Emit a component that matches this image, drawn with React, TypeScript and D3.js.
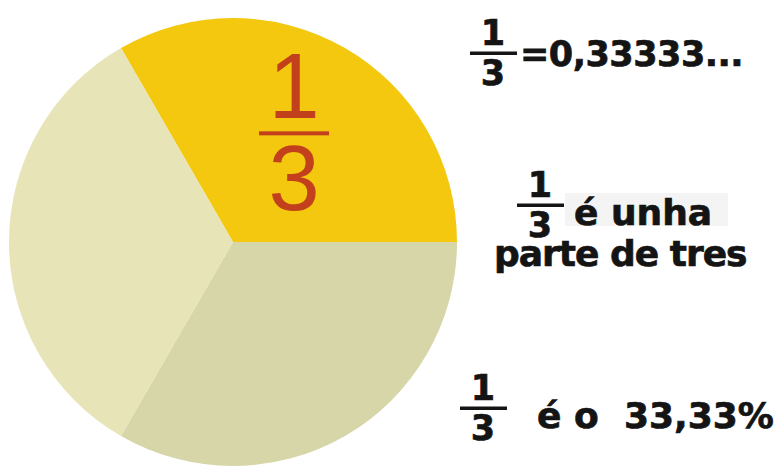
import React from "react";
import * as d3 from "d3";

const W = 782;
const H = 466;

const sliceNames = ["unha parte", "segunda parte", "terceira parte"];
const sliceValues = [1, 1, 1];
const sliceColors = ["#F3C80F", "#D6D6A8", "#E7E4B7"];

const fracNum = "1";
const fracDen = "3";
const line1 = "=0,33333...";
const line2a = "é unha";
const line2b = "parte de tres";
const line3a = "é o";
const line3b = "33,33%";

const cx = 233;
const cy = 242;
const R = 224;

const BOLD = "'DejaVu Sans', Verdana, sans-serif";
const INK = "#141414";

const boldText = {
  fontFamily: BOLD,
  fontWeight: "bold" as const,
  fill: INK,
  stroke: INK,
  strokeWidth: 0.7,
};

function SmallFrac({ x, barY }: { x: number; barY: number }) {
  return (
    <g>
      <text x={x + 23} y={barY - 8} textAnchor="middle" fontSize={35} {...boldText}>
        {fracNum}
      </text>
      <rect x={x} y={barY - 1.5} width={47} height={3.5} fill={INK} />
      <text x={x + 23} y={barY + 32} textAnchor="middle" fontSize={35} {...boldText}>
        {fracDen}
      </text>
    </g>
  );
}

export default function App() {
  const pie = d3
    .pie<number>()
    .sort(null)
    .startAngle(-Math.PI / 6)
    .endAngle(2 * Math.PI - Math.PI / 6);
  const arcs = pie(sliceValues);
  const arc = d3.arc<d3.PieArcDatum<number>>().innerRadius(0).outerRadius(R);
  const labelArc = d3.arc<d3.PieArcDatum<number>>().innerRadius(122).outerRadius(122);
  const [lx, ly] = labelArc.centroid(arcs[0]);

  return (
    <svg width={W} height={H} style={{ position: "absolute", left: 0, top: 0, background: "#fff" }}>
      <g transform={`translate(${cx},${cy})`}>
        {arcs.map((a, i) => (
          <path key={sliceNames[i]} d={arc(a) || ""} fill={sliceColors[i]} />
        ))}
      </g>
      {/* big fraction in the yellow slice */}
      <g transform={`translate(${lx + cx},${ly + cy})`}>
        <text x={0} y={-18} textAnchor="middle" fontFamily="'Liberation Sans', Arial, sans-serif" fontSize={92} fill="#C2411C">
          {fracNum}
        </text>
        <rect x={-35} y={-5} width={70} height={4} fill="#C2411C" />
        <text x={0} y={74} textAnchor="middle" fontFamily="'Liberation Sans', Arial, sans-serif" fontSize={92} fill="#C2411C">
          {fracDen}
        </text>
      </g>

      {/* line 1 */}
      <SmallFrac x={470} barY={53} />
      <text x={520} y={66} fontSize={35} letterSpacing={-0.5} {...boldText}>
        {line1}
      </text>

      {/* line 2 */}
      <rect x={565} y={193} width={163} height={33} fill="#F4F4F4" />
      <SmallFrac x={517} barY={205} />
      <text x={574} y={225} fontSize={36} {...boldText}>
        {line2a}
      </text>
      <text x={494} y={266} fontSize={36} letterSpacing={-1} {...boldText}>
        {line2b}
      </text>

      {/* line 3 */}
      <SmallFrac x={460} barY={408} />
      <text x={537} y={428} fontSize={36} {...boldText}>
        {line3a}
      </text>
      <text x={624} y={428} fontSize={36} {...boldText}>
        {line3b}
      </text>
    </svg>
  );
}
